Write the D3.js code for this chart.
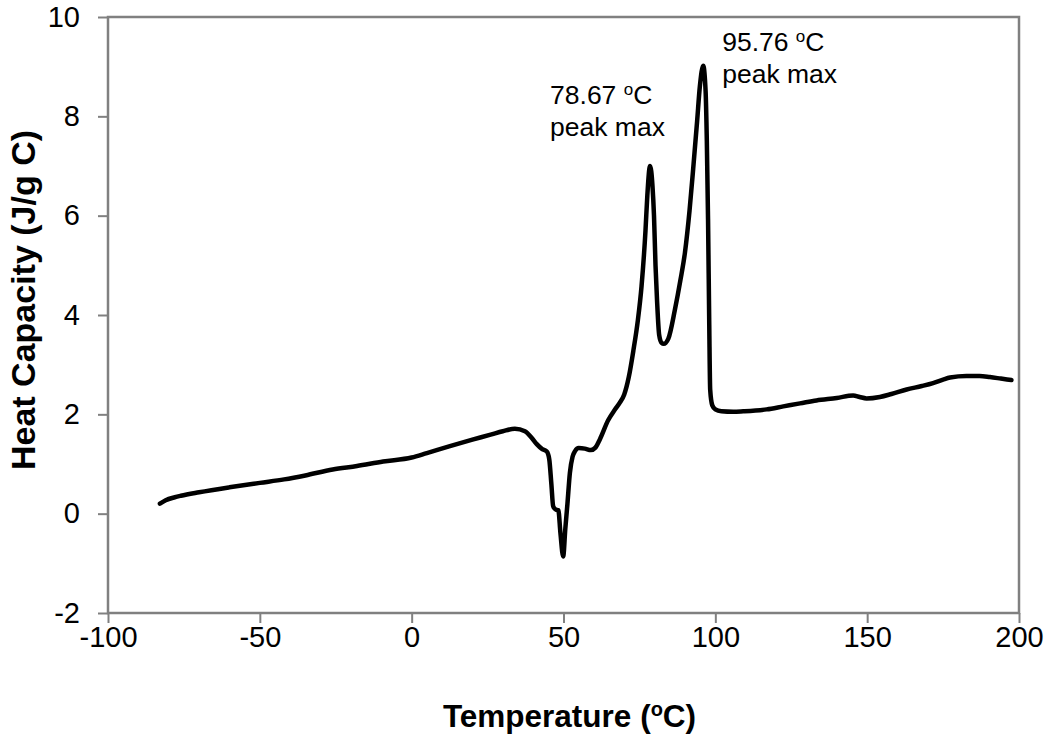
<!DOCTYPE html>
<html>
<head>
<meta charset="utf-8">
<script src="https://cdn.jsdelivr.net/npm/d3@7"></script>
<style>
  html, body { margin: 0; padding: 0; background: #fff; }
  svg { display: block; }
  text { font-family: "Liberation Sans", Arial, sans-serif; fill: #000; }
</style>
</head>
<body>
<svg id="chart" width="1050" height="740"></svg>
<script>
// ---- data ----
const temperature = [
  -82.9, -81, -78, -76, -70, -60, -50, -42, -35, -26, -18, -9.4, 0, 5, 12.6, 20, 26, 30, 34,
  37.3, 39.5, 41.2, 43, 44.5, 45.3, 46, 46.6, 47.5, 48.3, 49, 49.9, 50.6, 51.3, 52.1, 53, 53.8,
  55, 57, 59, 60.5, 62, 64.7, 67, 68.6, 70, 71.5, 73, 74.5, 75.7, 77, 77.6, 78.5, 79.3, 79.8,
  80.3, 80.8, 81.5, 82.3, 83, 84.5, 86.7, 88.5, 90, 91.5, 92.7, 94, 94.9, 96, 96.8, 97.2, 97.6,
  98, 98.3, 99, 100, 102, 105.9, 109.2, 116.9, 122.4, 127.9, 133.3, 140, 145.4, 147.5, 149.8,
  154.2, 158, 163, 168, 171.7, 175, 177.3, 182.7, 187, 190.4, 194, 197.5
];
const heatCapacity = [
  0.20, 0.27, 0.33, 0.36, 0.43, 0.53, 0.62, 0.69, 0.77, 0.89, 0.96, 1.05, 1.13, 1.22, 1.36, 1.49, 1.59, 1.66, 1.71,
  1.66, 1.53, 1.40, 1.30, 1.25, 1.10, 0.60, 0.15, 0.08, 0.07, -0.40, -0.86, -0.30, 0.20, 0.82, 1.15, 1.26,
  1.32, 1.31, 1.28, 1.33, 1.50, 1.88, 2.10, 2.24, 2.40, 2.75, 3.28, 3.90, 4.58, 5.70, 6.40, 7.00, 6.60, 6.00,
  5.00, 4.30, 3.60, 3.44, 3.42, 3.52, 4.11, 4.70, 5.26, 6.10, 6.94, 7.90, 8.60, 9.02, 8.50, 7.50, 5.93,
  3.80, 2.50, 2.18, 2.10, 2.06, 2.05, 2.06, 2.10, 2.16, 2.22, 2.28, 2.33, 2.38, 2.35, 2.32,
  2.35, 2.41, 2.50, 2.57, 2.63, 2.70, 2.74, 2.77, 2.77, 2.75, 2.72, 2.69
];
const xTicks = [-100, -50, 0, 50, 100, 150, 200];
const yTicks = [-2, 0, 2, 4, 6, 8, 10];
const peakTemps = [78.5, 96];
const peakLabels = ["78.67", "95.76"];

// ---- chart ----
const svg = d3.select("#chart");
const L = 108, R = 1019, T = 17, B = 613;
const x = d3.scaleLinear().domain([-100, 200]).range([L, R]);
const y = d3.scaleLinear().domain([-2, 10]).range([B, T]);
const axisColor = "#808080";

// frame
svg.append("rect")
  .attr("x", L).attr("y", T).attr("width", R - L).attr("height", B - T)
  .attr("fill", "none").attr("stroke", axisColor).attr("stroke-width", 2.5);

const xAxis = svg.append("g").attr("transform", `translate(0,${B})`)
  .call(d3.axisBottom(x).tickValues(xTicks).tickSize(10).tickPadding(3).tickFormat(d3.format("d")));
const yAxis = svg.append("g").attr("transform", `translate(${L},0)`)
  .call(d3.axisLeft(y).tickValues(yTicks).tickSize(10).tickPadding(18).tickFormat(d3.format("d")));
[xAxis, yAxis].forEach(g => {
  g.select(".domain").remove();
  g.selectAll(".tick line").attr("stroke", axisColor).attr("stroke-width", 2);
  g.selectAll(".tick text")
    .style("font-family", '"Liberation Sans", Arial, sans-serif')
    .style("font-size", "29px").attr("fill", "#000");
});
xAxis.selectAll(".tick text").text(d => d < 0 ? "-" + Math.abs(d) : d);
yAxis.selectAll(".tick text").text(d => d < 0 ? "-" + Math.abs(d) : d);

// curve
const pts = temperature.map((t, i) => [t, heatCapacity[i]]);
const line = d3.line().x(d => x(d[0])).y(d => y(d[1])).curve(d3.curveMonotoneX);
svg.append("path").datum(pts)
  .attr("d", line).attr("fill", "none").attr("stroke", "#000")
  .attr("stroke-width", 4.5).attr("stroke-linejoin", "round").attr("stroke-linecap", "round");

// annotations (offsets relative to each peak)
const offsets = [[-100, -62], [19, -15]];
peakTemps.forEach((pt, i) => {
  const idx = temperature.indexOf(pt);
  const px = x(pt), py = y(heatCapacity[idx]);
  const g = svg.append("g").attr("transform", `translate(${px + offsets[i][0]},${py + offsets[i][1]})`);
  const t1 = g.append("text").attr("x", 0).attr("y", 0).style("font-size", "26.5px");
  t1.append("tspan").text(peakLabels[i] + " ");
  t1.append("tspan").text("o").style("font-size", "17px").attr("dy", -9);
  t1.append("tspan").text("C").attr("dy", 9);
  g.append("text").attr("x", 0).attr("y", 32).style("font-size", "26.5px").text("peak max");
});

// axis titles
const xt = svg.append("text").attr("x", (L + R) / 2 + 6).attr("y", 727)
  .attr("text-anchor", "middle").style("font-size", "31.5px").style("font-weight", "bold");
xt.append("tspan").text("Temperature (");
xt.append("tspan").text("o").style("font-size", "20px").attr("dy", -11);
xt.append("tspan").text("C)").attr("dy", 11);

svg.append("text")
  .attr("transform", `translate(35,${(T + B) / 2 - 15}) rotate(-90)`)
  .attr("text-anchor", "middle").style("font-size", "34px").style("font-weight", "bold")
  .text("Heat Capacity (J/g C)");
</script>
</body>
</html>
